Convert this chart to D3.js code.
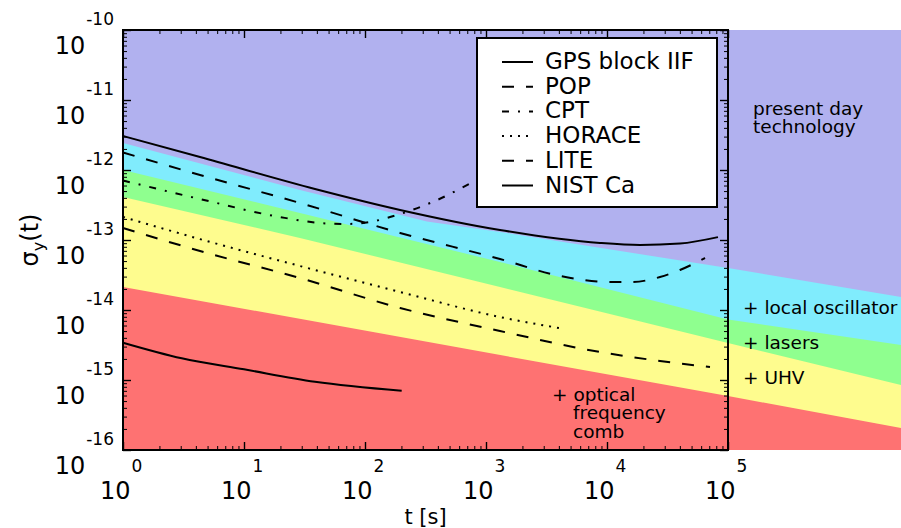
<!DOCTYPE html>
<html>
<head>
<meta charset="utf-8">
<script src="https://cdn.jsdelivr.net/npm/d3@7"></script>
<style>
  body { margin: 0; background: #fff; }
  text { font-family: "DejaVu Sans", sans-serif; fill: #000; }
</style>
</head>
<body>
<svg id="chart" width="901" height="528"></svg>
<script>
// ***************************************************
// Data: [tau (s), sigma_y(tau)]
// ***************************************************
const gpsIIF  = [[1,3.06e-12],[4.33,1.53e-12],[38.6,5.36e-13],[195,2.69e-13],[1305,1.39e-13],[8750,9.06e-14],[18750,8.49e-14],[40100,8.91e-14],[82600,1.10e-13]];
const pop     = [[1,1.78e-12],[4.33,8.49e-13],[29,3.38e-13],[195,1.26e-13],[1305,5.36e-14],[4090,3.06e-14],[10600,2.51e-14],[16100,2.51e-14],[27400,2.96e-14],[40100,3.73e-14],[64600,5.53e-14]];
const cpt     = [[1,7.08e-13],[4.33,3.85e-13],[19.8,2.13e-13],[42.5,1.75e-13],[68.4,1.69e-13],[110,1.81e-13],[195,2.35e-13],[379,3.61e-13],[811,6.97e-13],[1910,1.48e-12],[4090,2.96e-12]];
const horace  = [[1,2.13e-13],[4.33,1.03e-13],[29,4.25e-14],[195,1.81e-14],[1305,7.94e-15],[4010,5.53e-15]];
const lite    = [[1,1.48e-13],[4.33,6.97e-14],[29,2.86e-14],[195,1.07e-14],[1305,5.01e-15],[8750,2.51e-15],[27400,1.87e-15],[71000,1.53e-15]];
const nistCa  = [[1,3.41e-15],[3.06,2.04e-15],[10,1.42e-15],[38.6,9.46e-16],[201,7.03e-16]];

// band edges, from the left axis out to the right border of the figure
const edgeUHV    = [[1,2.13e-14],[1e5,5.9e-16],[2.69e6,2.06e-16]];
const edgeLasers = [[1,4.11e-13],[29,1.07e-13],[1305,2.13e-14],[1e5,3.38e-15],[2.69e6,8.49e-16]];
const edgeLO     = [[1,1e-12],[29,2.43e-13],[1305,4.85e-14],[1e5,7.3e-15],[2.69e6,3.16e-15]];
const edgeToday  = [[1,2.43e-12],[29,5.18e-13],[325,1.84e-13],[1305,1.30e-13],[1e5,3.98e-14],[2.69e6,1.53e-14]];

const seriesNames = ["GPS block IIF", "POP", "CPT", "HORACE", "LITE", "NIST Ca"];
const xMajor = [1, 10, 100, 1e3, 1e4, 1e5];
const yMajor = [1e-16, 1e-15, 1e-14, 1e-13, 1e-12, 1e-11, 1e-10];

// styles
const bandColors = ["#fe7272", "#fefc8e", "#8fff8f", "#80ecfd", "#b1b1ef"];
const dashes = [null, "12,12", "7,9,2,9", "2,6", "12,12", null];

const svg = d3.select("#chart");
const x = d3.scaleLog().domain([1, 1e5]).range([123, 728]);
const y = d3.scaleLog().domain([1e-16, 1e-10]).range([450, 30]);
const tauEnd = 2.69e6;

// *************************************
// Bands
// *************************************
svg.append("rect")
  .attr("x", x(1)).attr("y", y(1e-10))
  .attr("width", x(tauEnd) - x(1)).attr("height", y(1e-16) - y(1e-10))
  .attr("fill", bandColors[0]);

const topArea = d3.area().x(d => x(d[0])).y0(y(1e-10)).y1(d => y(d[1]));
[edgeUHV, edgeLasers, edgeLO, edgeToday].forEach((edge, i) => {
  svg.append("path").attr("d", topArea(edge)).attr("fill", bandColors[i + 1]);
});

// *************************************
// Ticks (inward, all four sides)
// *************************************
const minors = (majors) => majors.slice(0, -1).flatMap(m => d3.range(2, 10).map(k => m * k));
const xMinor = minors(xMajor), yMinor = minors(yMajor);

const tickSets = [
  [d3.axisBottom(x), `translate(0,${y(1e-16)})`, xMajor, xMinor],
  [d3.axisTop(x), `translate(0,${y(1e-10)})`, xMajor, xMinor],
  [d3.axisLeft(y), `translate(${x(1)},0)`, yMajor, yMinor],
  [d3.axisRight(y), `translate(${x(1e5)},0)`, yMajor, yMinor]
];
tickSets.forEach(([axis, tr, maj, min]) => {
  [[maj, 8, 1.4], [min, 4, 1]].forEach(([vals, len, w]) => {
    const g = svg.append("g").attr("transform", tr)
      .call(axis.tickValues(vals).tickSize(-len).tickFormat(""));
    g.select(".domain").remove();
    g.selectAll("line").attr("stroke", "#000").attr("stroke-width", w);
  });
});

// *************************************
// Curves
// *************************************
const line = d3.line().x(d => x(d[0])).y(d => y(d[1])).curve(d3.curveMonotoneX);
[gpsIIF, pop, cpt, horace, lite, nistCa].forEach((s, i) => {
  svg.append("path")
    .attr("d", line(s))
    .attr("fill", "none")
    .attr("stroke", "#000")
    .attr("stroke-width", 2)
    .attr("stroke-dasharray", dashes[i]);
});

// frame
svg.append("rect")
  .attr("x", x(1)).attr("y", y(1e-10))
  .attr("width", x(1e5) - x(1)).attr("height", y(1e-16) - y(1e-10))
  .attr("fill", "none").attr("stroke", "#000").attr("stroke-width", 2);

// *************************************
// Tick labels  10^n
// *************************************
xMajor.forEach(v => {
  const t = svg.append("text")
    .attr("x", x(v) - 23).attr("y", 499)
    .style("font-size", "24px");
  t.append("tspan").text("10");
  t.append("tspan").attr("dx", 1).attr("dy", -27).style("font-size", "17px").text(Math.round(Math.log10(v)));
});

yMajor.forEach(v => {
  const t = svg.append("text")
    .attr("x", 114).attr("y", y(v) + 24)
    .attr("text-anchor", "end")
    .style("font-size", "24px");
  t.append("tspan").text("10");
  t.append("tspan").attr("dx", 1).attr("dy", -29).style("font-size", "17px").text(Math.round(Math.log10(v)));
});

// axis titles
svg.append("text")
  .attr("x", (x(1) + x(1e5)) / 2).attr("y", 524)
  .attr("text-anchor", "middle")
  .style("font-size", "21px")
  .text("t [s]");

const yt = svg.append("text")
  .attr("transform", "translate(38,240) rotate(-90)")
  .attr("text-anchor", "middle")
  .style("font-size", "24px");
yt.append("tspan").text("σ");
yt.append("tspan").attr("dy", 6).style("font-size", "16px").text("y");
yt.append("tspan").attr("dy", -6).text("(t)");

// *************************************
// Legend
// *************************************
svg.append("rect")
  .attr("x", 477).attr("y", 38).attr("width", 240).attr("height", 169)
  .attr("fill", "#fff").attr("stroke", "#000").attr("stroke-width", 2);

seriesNames.forEach((name, i) => {
  const by = 69 + i * 24.7;
  svg.append("line")
    .attr("x1", 502).attr("x2", 533).attr("y1", by - 7).attr("y2", by - 7)
    .attr("stroke", "#000").attr("stroke-width", 2)
    .attr("stroke-dasharray", dashes[i]);
  svg.append("text")
    .attr("x", 545).attr("y", by)
    .style("font-size", "23px")
    .text(name);
});

// *************************************
// Band annotations
// *************************************
const note = (tx, ty, str) => svg.append("text").attr("x", tx).attr("y", ty).style("font-size", "18.5px").text(str);
note(753, 115, "present day");
note(753, 133, "technology");
note(743, 314, "+ local oscillator");
note(743, 349, "+ lasers");
note(743, 384, "+ UHV");
note(552, 401, "+ optical");
note(573, 419, "frequency");
note(573, 438, "comb");
</script>
</body>
</html>
